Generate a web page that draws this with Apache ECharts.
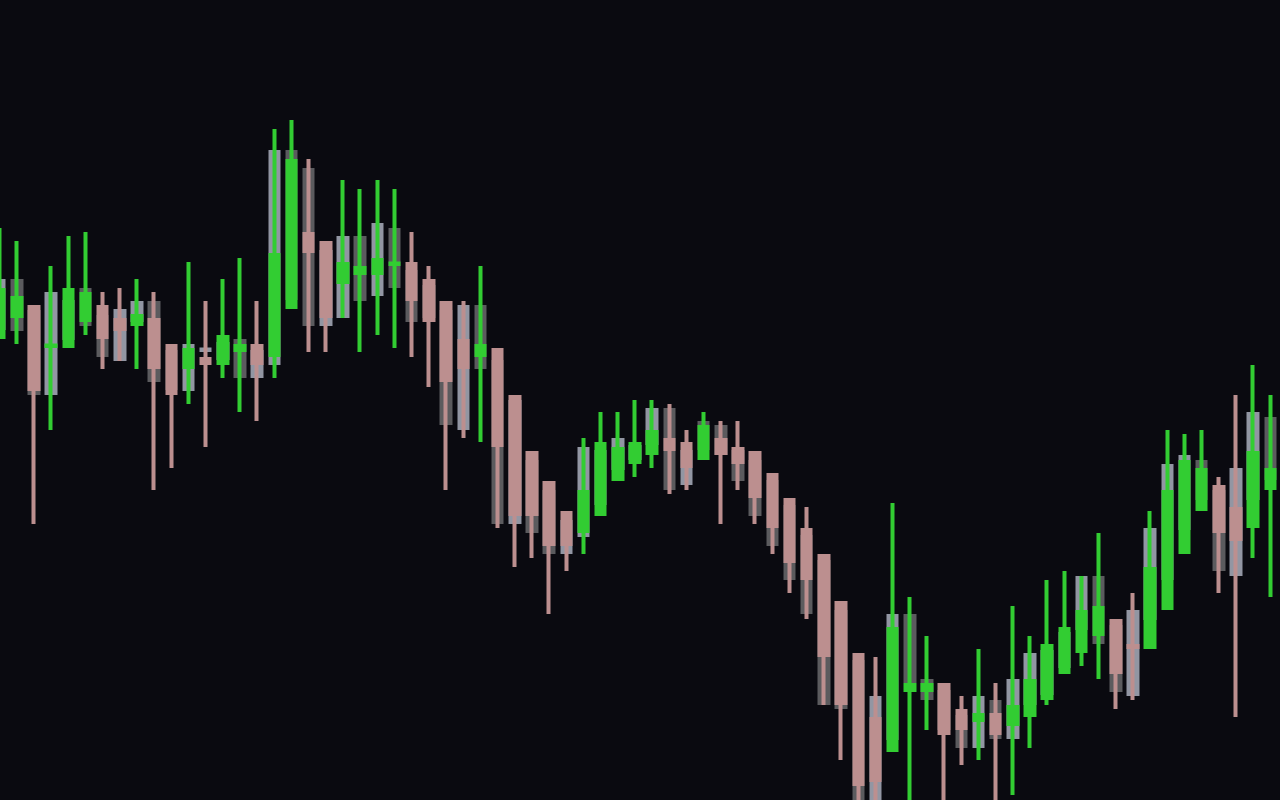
<!DOCTYPE html>
<html>
<head>
<meta charset="utf-8">
<style>
  html, body { margin: 0; padding: 0; background: #0a0a10; overflow: hidden; width: 1280px; height: 800px; }
  #chart { width: 1288px; height: 800px; margin-left: -9px; }
</style>
<script src="https://cdn.jsdelivr.net/npm/echarts@6/dist/echarts.min.js"></script>
</head>
<body>
<div id="chart"></div>
<script>
// Foreground candles: [open, close, low, high]
const candleOpen = [463,484,493,454,454,480,493,480,476,480, 454,433,441,437,450,454,445,493,566,557,
  518,527,527,536,536,519,497,459,445,450, 403,347,317,287,269,286,321,338,347,360,
  356,342,360,351,347,325,300,270,244,197, 145,81,50,110,110,115,89,80,85,76,
  85,102,128,149,166,179,154,153,192,248, 291,313,291,274,312];
const candleClose = [510,502,411,454.5,510,506,463,471,484,433, 407,450,437,463,454,437,545,639,549,484,
  536,532,540,536.5,501,480,420,433,454,355, 286,286,256,256,308,356,351,356,368,351,
  334,373,347,338,304,274,239,222,145,97, 16,20,171,115,115,67,72,85,67,93,
  119,154,171,188,192,128,153,231,308,338, 330,269,261,347,330];
const candleLow = [461,456,276,370,452,465,431,439,431,310, 332,396,353,422,388,379,422,491,448,448,
  482,448,465,452,443,413,310,362,358,272, 233,242,186,229,246,284,319,323,332,306,
  310,340,276,310,276,246,207,181,95,40, -10,-10,48,-10,70,-10,35,40,-10,5,
  52,95,126,134,121,91,100,151,190,246, 289,207,83,242,203];
const candleHigh = [572,559,495,534,564,568,508,512,521,508, 456,538,499,521,542,499,671,680,641,559,
  620,611,620,611,568,534,499,499,534,452, 405,349,319,289,362,388,388,400,400,396,
  370,388,379,379,349,327,302,293,246,199, 147,143,297,203,164,117,104,151,117,194,
  164,220,229,224,267,181,207,289,370,366, 370,323,405,435,405];

// Grey background candles (bodies only): open, close
const shadowOpen = [472,519,488,407,462,510,483,441,480,497, 448,411,450,442,459,424,437,648,630,476,
  484,562,506,570,528,513,488,372,493,438, 278,338,308,248,265,297,332,342,357,390,
  317,377,373,348,338,318,293,263,238,188, 138,-13,62,184,119,108,83,54,98,63,
  97,107,134,172,222,173,106,182,222,272, 338,308,226,302,381];
const shadowClose = [519,471,407,506,498,476,445,489,497,420, 412,454,450.5,456,424,448,648,502,476,548,
  562,501,575,514,480,484,377,493,433,278, 398,269,248,278,351,348,360,353,390,312,
  348,352,347,321,286,256,222,188,97,93, -13,102,184,119,102,72,54,102,63,119,
  145,148,166,222,158,110,188,270,334,343, 302,231,330,386,322];

const categories = candleOpen.map((_, i) => 'D' + (i + 1));

const candleData = candleOpen.map((o, i) => [o, candleClose[i], candleLow[i], candleHigh[i]]);
const shadowData = shadowOpen.map((o, i) => {
  const c = shadowClose[i];
  return [o, c, Math.min(o, c), Math.max(o, c)];
});

const chart = echarts.init(document.getElementById('chart'), null, { renderer: 'canvas' });
chart.setOption({
  backgroundColor: '#0a0a10',
  animation: false,
  grid: { left: 0, right: 0, top: 0, bottom: 0 },
  xAxis: {
    type: 'category',
    data: categories,
    show: false,
    boundaryGap: true
  },
  yAxis: {
    type: 'value',
    min: 0,
    max: 800,
    show: false,
    splitLine: { show: false }
  },
  series: [
    {
      name: 'Shadow',
      type: 'candlestick',
      data: shadowData,
      barWidth: 9,
      silent: true,
      clip: true,
      emphasis: { disabled: true },
      itemStyle: {
        color: '#9296a3',
        color0: '#5b5b5e',
        borderColor: '#9296a3',
        borderColor0: '#5b5b5e',
        borderWidth: 4
      }
    },
    {
      name: 'Price',
      type: 'candlestick',
      data: candleData,
      barWidth: 9,
      silent: true,
      clip: true,
      emphasis: { disabled: true },
      itemStyle: {
        color: '#32cd32',
        color0: '#bc8f8f',
        borderColor: '#32cd32',
        borderColor0: '#bc8f8f',
        borderWidth: 4
      }
    }
  ]
});
</script>
</body>
</html>
